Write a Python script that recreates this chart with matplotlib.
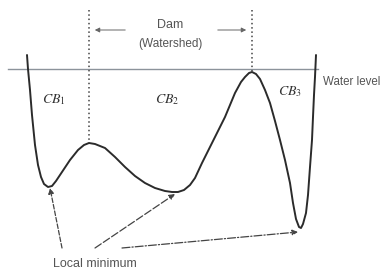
import matplotlib.pyplot as plt

# Perfil del terreno (coordenadas en píxeles de la figura, y hacia abajo)
curve_x = [27, 28, 30, 32, 35, 38, 41, 44, 48, 52, 56, 62, 70, 78, 84, 89,
           95, 105, 115, 125, 135, 145, 155, 165, 172, 178, 184, 190, 195,
           202, 210, 218, 225, 235, 241, 245, 249, 252, 256, 260, 265, 270,
           275, 280, 285, 290, 293, 296, 299, 301, 303, 306, 308, 310, 312,
           313, 314, 315, 316]
curve_y = [55, 69, 90, 115, 145, 165, 177, 184, 187, 186, 181, 172, 160, 150,
           145, 143, 144, 148, 157, 167, 176, 183, 188, 191, 192, 192, 190,
           185, 178, 163, 147, 131, 117, 93, 82, 77, 73, 72, 74, 79, 90, 103,
           121, 140, 160, 183, 203, 219, 227, 228, 224, 213, 195, 167, 140,
           117, 95, 77, 55]

water_level = 69
dam_x = [89, 252]
dam_top = 10
dam_bottom = [143, 72]

basin_labels = [r"$CB_1$", r"$CB_2$", r"$CB_3$"]
basin_x = [54, 167, 290]
basin_y = [100, 100, 92]

minima_x = [50, 175, 298]
minima_y = [188, 194, 232]
minima_from_x = [62, 95, 122]
minima_from_y = [248, 248, 248]
minima_styles = ["--", (0, (6, 2)), "-."]

plt.rcParams["mathtext.fontset"] = "stix"
plt.rcParams["font.family"] = ["Liberation Sans", "DejaVu Sans"]

fig = plt.figure(figsize=(3.82, 2.71), dpi=100)
ax = fig.add_axes([0, 0, 1, 1])
ax.set_xlim(0, 382)
ax.set_ylim(271, 0)
ax.axis("off")

gris = "#555555"

# nivel del agua
ax.plot([8, 318], [water_level, water_level], color="#8c939b", lw=1.0)
ax.text(323, 82, "Water level", fontsize=8.3, color=gris, ha="left", va="center")

# relieve
ax.plot(curve_x, curve_y, color="#2b2b2b", lw=1.4, solid_capstyle="round")

# presas (líneas de puntos)
for x, yb in zip(dam_x, dam_bottom):
    ax.plot([x, x], [dam_top, yb], color="#444444", lw=1.1, ls=(0, (1, 1.8)))

ax.text(170, 25, "Dam", fontsize=9, color=gris, ha="center", va="center")
ax.text(170, 44, "(Watershed)", fontsize=8.5, color=gris, ha="center", va="center")
ax.annotate("", xy=(92, 30), xytext=(128, 30),
            arrowprops=dict(arrowstyle="-|>", color="#666666", lw=0.7,
                            mutation_scale=7))
ax.annotate("", xy=(249, 30), xytext=(215, 30),
            arrowprops=dict(arrowstyle="-|>", color="#666666", lw=0.7,
                            mutation_scale=7))

# etiquetas de cuencas
for lab, x, y in zip(basin_labels, basin_x, basin_y):
    ax.text(x, y, lab, fontsize=10, color="#333333", ha="center", va="center")

# flechas a los mínimos locales
for x0, y0, x1, y1, st in zip(minima_from_x, minima_from_y, minima_x, minima_y,
                              minima_styles):
    ax.annotate("", xy=(x1, y1), xytext=(x0, y0),
                arrowprops=dict(arrowstyle="-|>", color="#444444", lw=0.9,
                                ls=st, mutation_scale=8, shrinkA=0, shrinkB=0))

ax.text(95, 264, "Local minimum", fontsize=9, color=gris, ha="center", va="center")

fig.savefig("out.png", dpi=100)
